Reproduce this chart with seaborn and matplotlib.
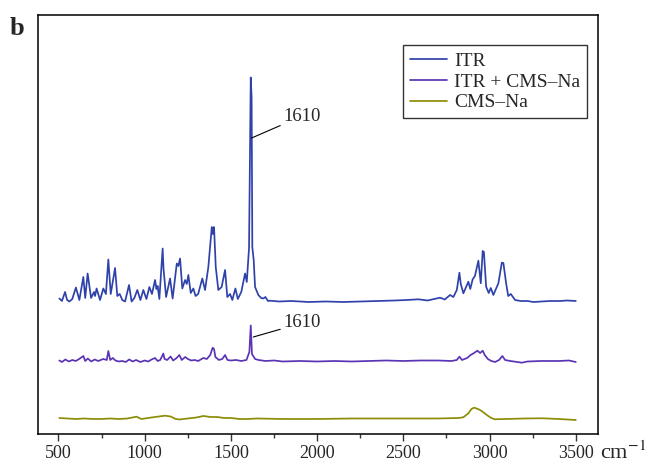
import numpy as np
import pandas as pd
import seaborn as sns
import matplotlib
matplotlib.use('Agg')
import matplotlib.pyplot as plt
from matplotlib.ticker import MultipleLocator

# 스펙트럼 데이터 (그림에서 읽은 값, 임의 단위)
itr_wn = [505, 520, 538, 550, 563, 580, 601, 621, 644, 655, 669, 689, 706, 712, 721, 741,
          760, 775, 789, 803, 828, 841, 855, 870, 886, 909, 924, 940, 957, 975, 992, 1010,
          1027, 1042, 1060, 1068, 1075, 1085, 1104, 1109, 1124, 1147, 1162, 1186, 1195, 1205,
          1218, 1234, 1244, 1253, 1267, 1282, 1295, 1310, 1334, 1350, 1369, 1389, 1395, 1402, 1412,
          1427, 1446, 1466, 1479, 1495, 1508, 1526, 1540, 1560, 1582, 1592, 1605, 1615, 1620,
          1624, 1632, 1640, 1659, 1675, 1688, 1700, 1715, 1727, 1780, 1850, 1950, 2050, 2150,
          2250, 2350, 2450, 2520, 2587, 2640, 2680, 2713, 2740, 2771, 2790, 2810, 2825, 2833,
          2848, 2866, 2877, 2888, 2902, 2915, 2935, 2949, 2960, 2967, 2980, 2995, 3007, 3022,
          3051, 3071, 3080, 3096, 3108, 3123, 3148, 3180, 3220, 3254, 3300, 3350, 3409, 3450,
          3500]
itr_int = [135.5, 133, 142, 134, 132.5, 135, 146.5, 134, 157, 136, 160.5, 136, 142, 138, 145.5, 134,
           145.5, 140, 174.5, 140, 166, 138, 140, 134, 132.5, 149, 132.5, 136, 144, 134, 144, 135,
           147, 140, 154, 145, 148, 135, 185.5, 165.5, 137, 155.5, 135.5, 170.5, 168, 175.5,
           145.5, 154, 150, 159, 141, 145.5, 138, 140, 155.5, 144, 167, 207, 200, 207, 167,
           144, 147, 164, 137, 140, 134, 145.5, 135, 142, 160.5, 152, 186, 356.5, 336,
           187, 174, 147, 139, 136, 135.5, 137, 133, 133.3, 132.5, 133, 132, 132.5, 132,
           132.5, 133, 133.5, 134, 134.7, 133.5, 135, 136.3, 134.5, 139, 137, 144, 161.3, 150,
           140.7, 148, 152.3, 145, 154.7, 158, 173.3, 150.7, 183, 182, 147.3, 141, 146, 139,
           150.7, 171.3, 171, 150.7, 138, 140, 134, 133, 133, 132, 132.5, 133, 133, 133.5,
           133]

mix_wn = [505, 520, 540, 560, 580, 600, 620, 644, 655, 670, 690, 710, 730, 760, 780, 789,
          800, 815, 830, 850, 870, 890, 910, 930, 950, 975, 1000, 1020, 1040, 1060, 1075, 1090,
          1108, 1115, 1130, 1150, 1165, 1185, 1201, 1215, 1235, 1250, 1270, 1290, 1310, 1340,
          1360, 1380, 1394, 1402, 1410, 1430, 1450, 1466, 1480, 1500, 1530, 1560, 1590, 1607,
          1615, 1622, 1640, 1660, 1700, 1750, 1800, 1900, 2000, 2100, 2200, 2300, 2400, 2500,
          2600, 2700, 2780, 2810, 2825, 2840, 2870, 2890, 2910, 2929, 2945, 2960, 2972, 2990,
          3010, 3032, 3055, 3074, 3090, 3120, 3160, 3187, 3220, 3300, 3400, 3460, 3500]
mix_int = [73.5, 72, 74.5, 72.5, 74, 73, 75, 78, 73, 75.5, 72.5, 74.5, 73, 75, 74, 83,
           74, 76, 73.5, 72.5, 73, 72, 74.5, 72.5, 74, 72, 73.5, 72.5, 74.5, 76, 73, 74,
           80.5, 75, 74, 77.5, 73.5, 76, 79, 74, 77, 75, 73.5, 74, 73, 76,
           75, 79, 86.3, 85, 77, 74, 75, 79, 74, 73.5, 74, 73, 74, 82,
           108.5, 80, 75, 74, 73, 73.5, 72.5, 73, 72.5, 73, 72.5, 73, 73.5, 73,
           73.5, 73.5, 73, 74, 77.3, 74, 76, 79, 81, 83.3, 81, 83.3, 79, 75,
           73, 72, 74, 78, 74, 73, 72, 71.3, 72.5, 73, 73, 73.5, 72]

cms_wn = [505, 550, 600, 650, 700, 750, 800, 850, 900, 953, 980, 1020, 1060, 1118, 1150, 1180,
          1200, 1250, 1300, 1340, 1380, 1420, 1460, 1500, 1550, 1600, 1650, 1800, 2000, 2200,
          2400, 2700, 2820, 2848, 2877, 2895, 2910, 2925, 2945, 2965, 2984, 3005, 3028, 3100,
          3200, 3307, 3400, 3500]
cms_int = [16, 15.5, 15, 15.5, 15, 15, 15.5, 15, 15.5, 17.3, 15, 16, 17, 18.3, 17.5, 15,
           14.5, 15.5, 16.5, 18, 17, 17, 16, 16, 15, 15, 15.5, 15, 15, 15.5,
           15.5, 15.5, 16, 16.7, 20.7, 25, 26.3, 25.5, 24, 21.5, 19, 16.5, 14.7, 15,
           15.5, 15.7, 15, 14]

labels = ['ITR', 'ITR + CMS–Na', 'CMS–Na']
colors = ['#2f42aa', '#5a34b4', '#8c8c06']

df = pd.concat([
    pd.DataFrame({'wn': itr_wn, 'int': itr_int, 'sample': labels[0]}),
    pd.DataFrame({'wn': mix_wn, 'int': mix_int, 'sample': labels[1]}),
    pd.DataFrame({'wn': cms_wn, 'int': cms_int, 'sample': labels[2]}),
], ignore_index=True)

sns.set_style('ticks')
plt.rcParams['font.family'] = ['Liberation Serif', 'DejaVu Serif']
plt.rcParams['mathtext.fontset'] = 'stix'

fig = plt.figure(figsize=(6.48, 4.65), dpi=100)
ax = fig.add_axes([0.0594, 0.0667, 0.8627, 0.901])

sns.lineplot(data=df, x='wn', y='int', hue='sample', palette=colors,
             estimator=None, sort=False, linewidth=1.25, ax=ax)

ax.set_xlim(384, 3626)
ax.set_ylim(0, 419)
ax.set_xlabel('')
ax.set_ylabel('')
ax.set_yticks([])
ax.xaxis.set_major_locator(MultipleLocator(500))
ax.xaxis.set_minor_locator(MultipleLocator(250))
ax.tick_params(axis='x', which='major', length=5, width=1, labelsize=13, pad=3, color='#333333')
ax.tick_params(axis='x', which='minor', length=3, width=1, color='#333333')
for s in ax.spines.values():
    s.set_visible(True)
    s.set_linewidth(1.1)
    s.set_color('black')

leg = ax.legend(loc='upper right', bbox_to_anchor=(0.981, 0.928), fontsize=14,
                frameon=True, fancybox=False, edgecolor='black', handlelength=1.9,
                handletextpad=0.35, borderpad=0.35, labelspacing=0.17, borderaxespad=0)
leg.get_frame().set_linewidth(1.0)

# 1610 표시
ax.annotate('1610', xy=(1620, 296), xytext=(1805, 318), fontsize=13.5,
            va='center', ha='left',
            arrowprops=dict(arrowstyle='-', color='black', lw=0.8, shrinkA=0, shrinkB=0))
ax.annotate('1610', xy=(1630, 97), xytext=(1805, 111), fontsize=13.5,
            va='center', ha='left',
            arrowprops=dict(arrowstyle='-', color='black', lw=0.8, shrinkA=0, shrinkB=0))

fig.text(0.926, 0.012, r'cm$^{-1}$', fontsize=16, ha='left', va='baseline')
fig.text(0.015, 0.925, 'b', fontsize=19, fontweight='bold', ha='left', va='baseline')

fig.savefig('out.png', dpi=100)
